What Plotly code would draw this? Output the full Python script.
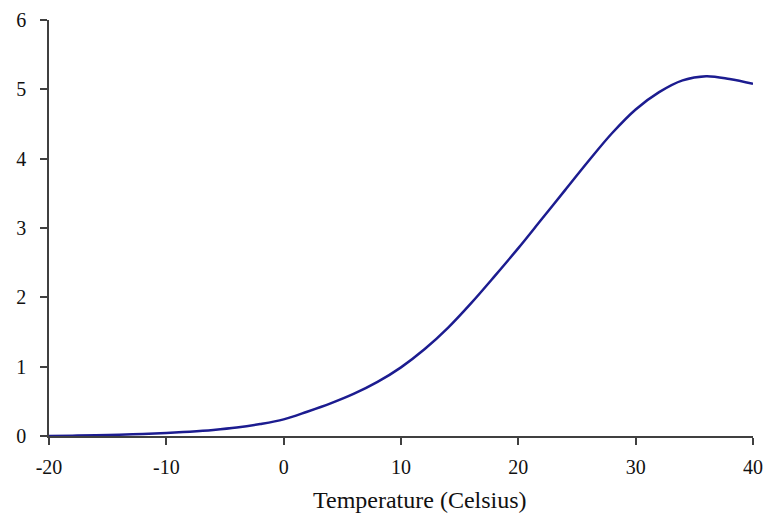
import plotly.graph_objects as go

temperature = [-20, -18, -16, -14, -12, -10, -8, -6, -4, -2, 0, 2, 4, 6, 8, 10,
               12, 14, 16, 18, 20, 22, 24, 26, 28, 30, 32, 34, 36, 38, 40]
values = [0.0, 0.005, 0.011, 0.019, 0.03, 0.044, 0.063, 0.088, 0.122, 0.172, 0.24,
          0.35, 0.47, 0.61, 0.78, 0.99, 1.25, 1.56, 1.92, 2.31, 2.71, 3.13, 3.55,
          3.97, 4.37, 4.71, 4.96, 5.13, 5.19, 5.15, 5.08]

x_ticks = [-20, -10, 0, 10, 20, 30, 40]
x_tick_labels = ["-20", "-10", "0", "10", "20", "30", "40"]
y_ticks = [0, 1, 2, 3, 4, 5, 6]
x_title = "Temperature (Celsius)"

fig = go.Figure()
fig.add_trace(go.Scatter(
    x=temperature, y=values, mode="lines",
    line=dict(color="#1c1c90", width=2.5, shape="spline", smoothing=1),
    showlegend=False,
))

axis_common = dict(
    showline=True, linecolor="#404040", linewidth=1.5,
    ticks="outside", ticklen=7, tickcolor="#404040", tickwidth=1.5,
    showgrid=False, zeroline=False, automargin=False,
    tickfont=dict(family="Liberation Serif", size=20, color="#111111"),
)

fig.update_layout(
    width=765, height=519,
    margin=dict(l=49, r=12, t=20, b=83),
    paper_bgcolor="white", plot_bgcolor="white",
    font=dict(family="Liberation Serif", color="#111111"),
    xaxis=dict(range=[-20, 40], tickvals=x_ticks, ticktext=x_tick_labels,
               ticklabelstandoff=5, **axis_common),
    yaxis=dict(range=[0, 6], tickvals=y_ticks, ticklabelstandoff=10,
               **axis_common),
    annotations=[dict(
        text=x_title, xref="paper", yref="paper", x=0.527, y=-0.154,
        xanchor="center", yanchor="middle", showarrow=False,
        font=dict(family="Liberation Serif", size=24, color="#111111"),
    )],
)

fig.write_html("out.html")
